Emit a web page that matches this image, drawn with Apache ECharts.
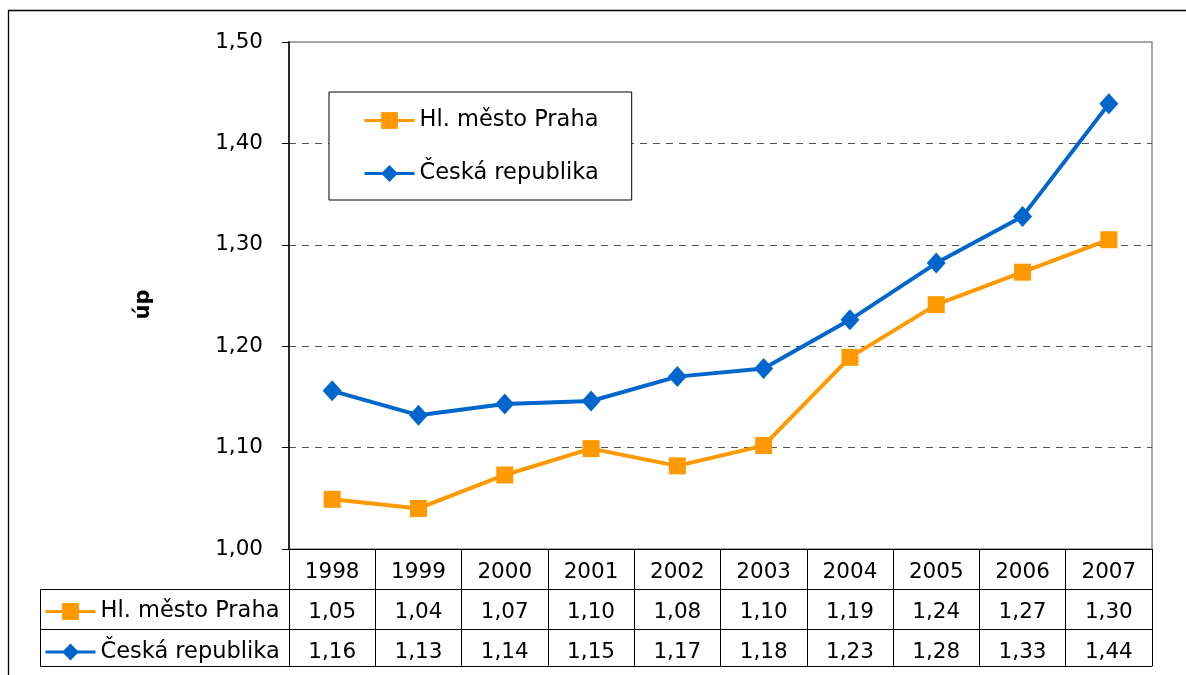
<!DOCTYPE html>
<html>
<head>
<meta charset="utf-8">
<script src="https://cdn.jsdelivr.net/npm/echarts@6/dist/echarts.min.js"></script>
<style>
  html, body { margin: 0; padding: 0; background: #fff; }
  #myChart { width: 1186px; height: 675px; }
</style>
</head>
<body>
<div id="myChart"></div>
<script>
// data
var years = ['1998', '1999', '2000', '2001', '2002', '2003', '2004', '2005', '2006', '2007'];
var seriesNames = ['Hl. město Praha', 'Česká republika'];
var praha = [1.049, 1.040, 1.073, 1.099, 1.082, 1.102, 1.189, 1.241, 1.273, 1.305];
var cr = [1.156, 1.132, 1.143, 1.146, 1.170, 1.178, 1.226, 1.282, 1.328, 1.439];

var font = 'DejaVu Sans, Verdana, sans-serif';
var comma = function (v) { return (+v).toFixed(2).replace('.', ','); };

var chartDom = document.getElementById('myChart');
var myChart = echarts.init(chartDom, null, { renderer: 'canvas' });

// table rows share one look, only offset / labels differ
var tableAxis = function (labels, offset, tickLen, showLabel) {
  return {
    type: 'category',
    gridIndex: 0,
    position: 'bottom',
    offset: offset,
    data: labels,
    boundaryGap: true,
    axisLine: { show: true, lineStyle: { color: '#000', width: 1 } },
    axisTick: { show: tickLen > 0, length: tickLen, lineStyle: { color: '#000', width: 1 } },
    axisLabel: {
      show: showLabel,
      interval: 0,
      margin: 12,
      color: '#000',
      fontFamily: font,
      fontSize: 21.5
    },
    splitLine: { show: false }
  };
};

var legendText = { color: '#000', fontFamily: font, fontSize: 22.5 };

var option = {
  animation: false,
  backgroundColor: '#fff',
  color: ['#FF9900', '#0066CC'],
  grid: {
    left: 289,
    right: 34,
    top: 42,
    bottom: 126,
    show: true,
    borderColor: '#8c8c8c',
    borderWidth: 1.5
  },
  legend: [
    {
      data: seriesNames,
      orient: 'vertical',
      left: 329,
      top: 92,
      itemWidth: 50,
      itemHeight: 21,
      itemGap: 30,
      padding: [17, 33, 15, 34],
      borderColor: '#000',
      borderWidth: 1,
      backgroundColor: '#fff',
      lineStyle: { width: 3 },
      textStyle: legendText
    },
    {
      data: seriesNames,
      orient: 'vertical',
      left: 40,
      top: 589,
      itemWidth: 50,
      itemHeight: 21,
      itemGap: 17.5,
      padding: [11, 0, 0, 4],
      lineStyle: { width: 3 },
      textStyle: legendText
    }
  ],
  xAxis: [
    tableAxis(years, 0, 40, true),
    tableAxis(praha.map(comma), 40, 40, true),
    tableAxis(cr.map(comma), 80, 37, true),
    tableAxis(years.map(function () { return ''; }), 117, 0, false)
  ],
  yAxis: [
    {
      type: 'value',
      min: 1,
      max: 1.5,
      interval: 0.1,
      name: 'úp',
      nameLocation: 'middle',
      nameGap: 135,
      nameTextStyle: {
        color: '#000', fontFamily: font, fontSize: 21, fontWeight: 'bold',
        padding: [0, 18, 0, 0]
      },
      axisLine: { show: true, lineStyle: { color: '#000', width: 1.5 } },
      axisTick: { show: true, length: 7, lineStyle: { color: '#000' } },
      axisLabel: {
        margin: 26,
        color: '#000',
        fontFamily: font,
        fontSize: 21.5,
        formatter: comma
      },
      splitLine: {
        show: true,
        showMinLine: false,
        showMaxLine: false,
        lineStyle: { color: '#555', width: 1, type: [7, 6] }
      }
    }
  ],
  series: [
    {
      name: seriesNames[0],
      type: 'line',
      data: praha,
      symbol: 'rect',
      symbolSize: 17,
      lineStyle: { width: 4 },
      z: 3
    },
    {
      name: seriesNames[1],
      type: 'line',
      data: cr,
      symbol: 'diamond',
      symbolSize: [19, 21],
      lineStyle: { width: 4 },
      z: 4
    }
  ],
  graphic: [
    // outer frame
    {
      type: 'rect',
      shape: { x: 8.5, y: 10.5, width: 1250, height: 750 },
      style: { fill: null, stroke: '#000', lineWidth: 1.3 },
      silent: true,
      z: -10
    },
    // left column of the data table
    {
      type: 'polyline',
      shape: { points: [[289, 589.5], [40.5, 589.5], [40.5, 666.5], [289, 666.5]] },
      style: { fill: null, stroke: '#000', lineWidth: 1 },
      silent: true
    },
    {
      type: 'line',
      shape: { x1: 41, y1: 629.5, x2: 289, y2: 629.5 },
      style: { stroke: '#000', lineWidth: 1 },
      silent: true
    }
  ]
};

option && myChart.setOption(option);
</script>
</body>
</html>
